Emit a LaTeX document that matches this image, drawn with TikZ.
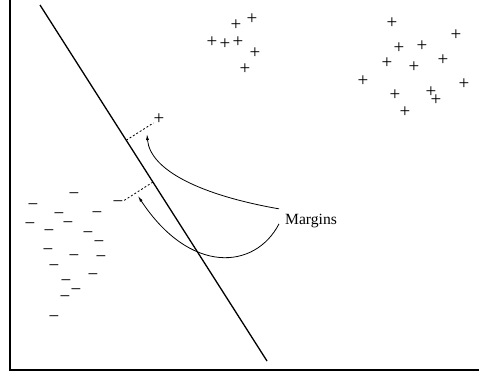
\documentclass[tikz,border=0pt]{standalone}
\usepackage{fontspec}
\setmainfont{Liberation Serif}
\usepackage{tikz}
\usetikzlibrary{calc,arrows.meta}
\tikzset{
  ax/.style={line width=1.2pt,black},
  sep/.style={line width=1.3pt,black},
  pt/.style={anchor=base,inner sep=0pt,font=\fontsize{19}{19}\selectfont,yshift=-4.75pt},
  mg/.style={dashed,dash pattern=on 2pt off 2pt,line width=0.8pt},
  ar/.style={-{Latex[length=6pt,width=3pt]},line width=0.8pt}
}
\begin{document}
\begin{tikzpicture}[x=1pt,y=-1pt]
\useasboundingbox (0,0) rectangle (479,374);
\draw[ax] (10,0)--(10,370)--(479,370);
\coordinate (s1) at (40,5);
\coordinate (s2) at (267,361);
\draw[sep] (s1)--(s2);
% class +
\foreach \x/\y [count=\i] in {236/26,252/20,212/43,225/45,238/43,255/54,245/70,
  392/24,456/36,399/49,422/47,443/61,387/64,414/68,363/82,464/85,395/96,431/93,436/101,405/113}
  \node[pt] (p\i) at (\x,\y) {+};
% class -
\foreach \x/\y [count=\i] in {74/195,33/206,59/215,97/214,30/225,68/224,49/232,88/234,99/243,
  48/251,74/257,101/258,54/267,93/276,66/282,76/291,65/298,54/318}
  \node[pt] (n\i) at (\x,\y) {−};
% support points
\node[pt] (pp) at (159,120) {+};
\node[pt] (nn) at (118,203) {−};
\coordinate (fp) at ($(s1)!(pp)!(s2)$);
\coordinate (fn) at ($(s1)!(nn)!(s2)$);
\draw[mg] (fp)--(pp);
\draw[mg] (fn)--(nn);
\node[anchor=base west,inner sep=6pt,font=\fontsize{15.6}{18}\selectfont] (marg) at (279,224) {Margins};
\coordinate (a1) at (147,134);
\coordinate (a2) at (138,196);
\draw[ar] (marg.160) .. controls (200,195) and (150,170) .. (a1);
\draw[ar] (marg.186) .. controls (255,270) and (190,275) .. (a2);
\end{tikzpicture}
\end{document}
